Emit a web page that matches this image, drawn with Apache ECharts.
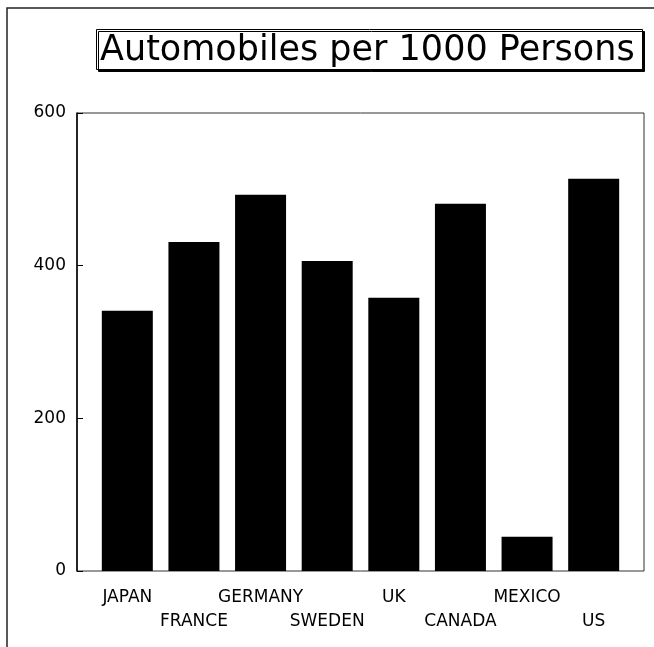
<!DOCTYPE html>
<html>
<head>
<meta charset="utf-8">
<script src="https://cdn.jsdelivr.net/npm/echarts@6/dist/echarts.min.js"></script>
<style>
  html, body { margin: 0; padding: 0; background: #fff; }
  #chart { width: 654px; height: 647px; }
</style>
</head>
<body>
<div id="chart"></div>
<script>
const countries = ['JAPAN', 'FRANCE', 'GERMANY', 'SWEDEN', 'UK', 'CANADA', 'MEXICO', 'US'];
const carsPer1000 = [341, 431, 493, 406, 358, 481, 45, 514];
const yTicks = [0, 200, 400, 600];

const font = 'DejaVu Sans';

const chart = echarts.init(document.getElementById('chart'));

const option = {
  backgroundColor: '#fff',
  animation: false,
  title: {
    text: 'Automobiles per 1000 Persons',
    left: 96,
    top: 29,
    padding: [4, 8, 2, 4],
    borderColor: '#000',
    borderWidth: 1,
    shadowColor: '#000',
    shadowOffsetX: 2,
    shadowOffsetY: 2,
    shadowBlur: 0,
    backgroundColor: '#fff',
    textStyle: {
      fontFamily: font,
      fontWeight: 'normal',
      fontSize: 35,
      color: '#000'
    }
  },
  graphic: [
    {
      type: 'rect',
      shape: { x: 7, y: 8, width: 700, height: 700 },
      style: { fill: 'none', stroke: '#222', lineWidth: 1.5 },
      z: -1
    }
  ],
  grid: [
    { left: 77, right: 10, top: 113, bottom: 76, show: true, borderColor: '#333', borderWidth: 1 },
    { left: 94, right: 27, top: 113, bottom: 76 }
  ],
  xAxis: [
    { gridIndex: 0, type: 'value', show: false, min: 0, max: 1 },
    {
      gridIndex: 1,
      type: 'category',
      data: countries,
      axisLine: { show: false },
      axisTick: { show: false },
      axisLabel: {
        interval: 0,
        margin: 15,
        fontFamily: font,
        fontSize: 17,
        color: '#000',
        lineHeight: 24,
        formatter: (v, i) => (i % 2 === 1 ? '\n' + v : v)
      }
    }
  ],
  yAxis: [
    {
      gridIndex: 0,
      type: 'value',
      min: yTicks[0],
      max: yTicks[yTicks.length - 1],
      interval: 200,
      splitLine: { show: false },
      axisLine: { show: true, lineStyle: { color: '#000', width: 1.5 } },
      axisTick: { show: true, inside: true, length: 6, lineStyle: { color: '#000' } },
      axisLabel: { margin: 11, fontFamily: font, fontSize: 17, color: '#000' }
    },
    { gridIndex: 1, type: 'value', min: 0, max: 600, show: false }
  ],
  series: [
    {
      type: 'bar',
      xAxisIndex: 1,
      yAxisIndex: 1,
      data: carsPer1000,
      barWidth: 51,
      itemStyle: { color: '#000' }
    }
  ]
};

chart.setOption(option);
</script>
</body>
</html>
